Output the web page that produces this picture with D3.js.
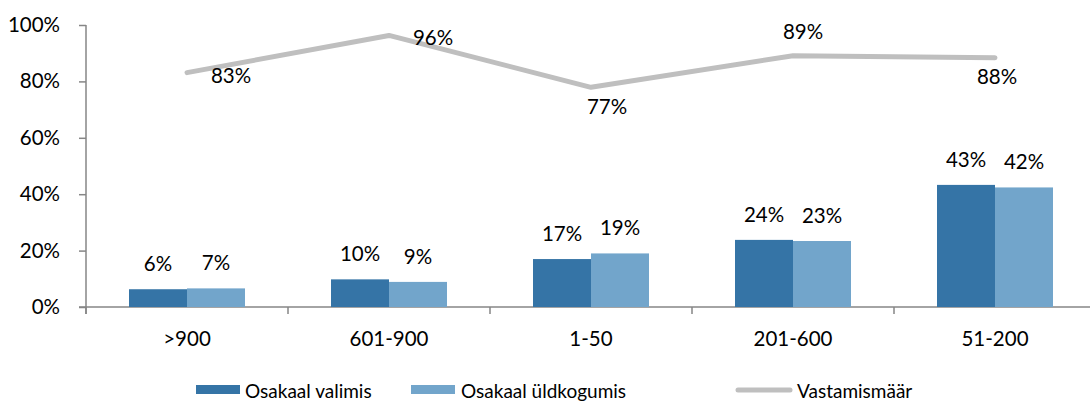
<!DOCTYPE html>
<html><head><meta charset="utf-8">
<script src="https://cdn.jsdelivr.net/npm/d3@7"></script>
<style>body{margin:0;background:#fff}svg{display:block}text{font-family:Lato,"Open Sans",sans-serif;fill:#000}</style>
</head><body><svg id="c" width="1090" height="401"></svg>
<script>
const categories = [">900", "601-900", "1-50", "201-600", "51-200"];
const valimis = [6.3, 9.8, 17.0, 23.8, 43.3];
const valimisLabels = ["6%", "10%", "17%", "24%", "43%"];
const yldkogumis = [6.6, 8.9, 19.0, 23.4, 42.4];
const yldkogumisLabels = ["7%", "9%", "19%", "23%", "42%"];
const vastamismaar = [83.1, 96.3, 77.9, 89.1, 88.4];
const vastamisLabels = ["83%", "96%", "77%", "89%", "88%"];
const yTicks = [0, 20, 40, 60, 80, 100];
const seriesNames = ["Osakaal valimis", "Osakaal üldkogumis", "Vastamismäär"];

const colDark = "#3574a6", colLight = "#72a5cb", colLine = "#bfbfbf", colAxis = "#868686";
const FS = "20.5px", FSL = "19px";
// label placement offsets for line labels (dx, baseline dy)
const lineLabelPos = [[44, 10], [44, 10], [16, 27], [10, -17], [2, 26]];

const svg = d3.select("#c");
const x = d3.scaleBand().domain(categories).range([86, 1096]);
const y = d3.scaleLinear().domain([0, 100]).range([307, 25]);
const barW = 58;

// axes
const yAxis = svg.append("g").attr("transform", "translate(86,0)")
  .call(d3.axisLeft(y).tickValues(yTicks).tickFormat(d => d + "%").tickSize(7).tickPadding(19));
yAxis.select(".domain").attr("stroke", colAxis).attr("stroke-width", 1.5).attr("d", "M0,25V314");
yAxis.selectAll(".tick line").attr("stroke", colAxis).attr("stroke-width", 1.5);
yAxis.selectAll(".tick text").style("font-size", FS).attr("fill", "#000").style("font-family", "Lato,sans-serif");

const xg = svg.append("g");
xg.append("line").attr("x1", 79).attr("x2", 1090).attr("y1", y(0)).attr("y2", y(0)).attr("stroke", colAxis).attr("stroke-width", 1.5);
const bounds = categories.map(c => x(c)).concat([x(categories[categories.length-1]) + x.bandwidth()]);
xg.selectAll("line.t").data(bounds).enter().append("line")
  .attr("x1", d => d).attr("x2", d => d).attr("y1", y(0)).attr("y2", y(0) + 7)
  .attr("stroke", colAxis).attr("stroke-width", 1.5);
xg.selectAll("text").data(categories).enter().append("text")
  .attr("x", d => x(d) + x.bandwidth()/2).attr("y", 346).attr("text-anchor", "middle")
  .style("font-size", FS).text(d => d);

// bars
const cx = d => x(d) + x.bandwidth()/2;
svg.selectAll("rect.v").data(valimis).enter().append("rect")
  .attr("x", (d,i) => cx(categories[i]) - barW).attr("width", barW)
  .attr("y", d => y(d)).attr("height", d => y(0) - y(d)).attr("fill", colDark);
svg.selectAll("rect.u").data(yldkogumis).enter().append("rect")
  .attr("x", (d,i) => cx(categories[i])).attr("width", barW)
  .attr("y", d => y(d)).attr("height", d => y(0) - y(d)).attr("fill", colLight);

svg.selectAll("text.lv").data(valimis).enter().append("text")
  .attr("x", (d,i) => cx(categories[i]) - barW/2).attr("y", d => y(d) - 18)
  .attr("text-anchor", "middle").style("font-size", FS).text((d,i) => valimisLabels[i]);
svg.selectAll("text.lu").data(yldkogumis).enter().append("text")
  .attr("x", (d,i) => cx(categories[i]) + barW/2).attr("y", d => y(d) - 18)
  .attr("text-anchor", "middle").style("font-size", FS).text((d,i) => yldkogumisLabels[i]);

// line
const line = d3.line().x((d,i) => cx(categories[i])).y(d => y(d));
svg.append("path").datum(vastamismaar).attr("d", line).attr("fill", "none")
  .attr("stroke", colLine).attr("stroke-width", 5).attr("stroke-linejoin", "round").attr("stroke-linecap", "round");
svg.selectAll("text.ll").data(vastamismaar).enter().append("text")
  .attr("x", (d,i) => cx(categories[i]) + lineLabelPos[i][0]).attr("y", (d,i) => y(d) + lineLabelPos[i][1])
  .attr("text-anchor", "middle").style("font-size", FS).text((d,i) => vastamisLabels[i]);

// legend
const lg = svg.append("g");
const legX = [196, 411, 738];
lg.append("rect").attr("x", legX[0]).attr("y", 385).attr("width", 44).attr("height", 9).attr("fill", colDark);
lg.append("rect").attr("x", legX[1]).attr("y", 385).attr("width", 44).attr("height", 9).attr("fill", colLight);
lg.append("line").attr("x1", legX[2]).attr("x2", legX[2] + 52).attr("y1", 390).attr("y2", 390)
  .attr("stroke", colLine).attr("stroke-width", 5).attr("stroke-linecap", "round");
lg.selectAll("text").data(seriesNames).enter().append("text")
  .attr("x", (d,i) => [245, 461, 797][i]).attr("y", 398).style("font-size", FSL).text(d => d);
</script></body></html>
